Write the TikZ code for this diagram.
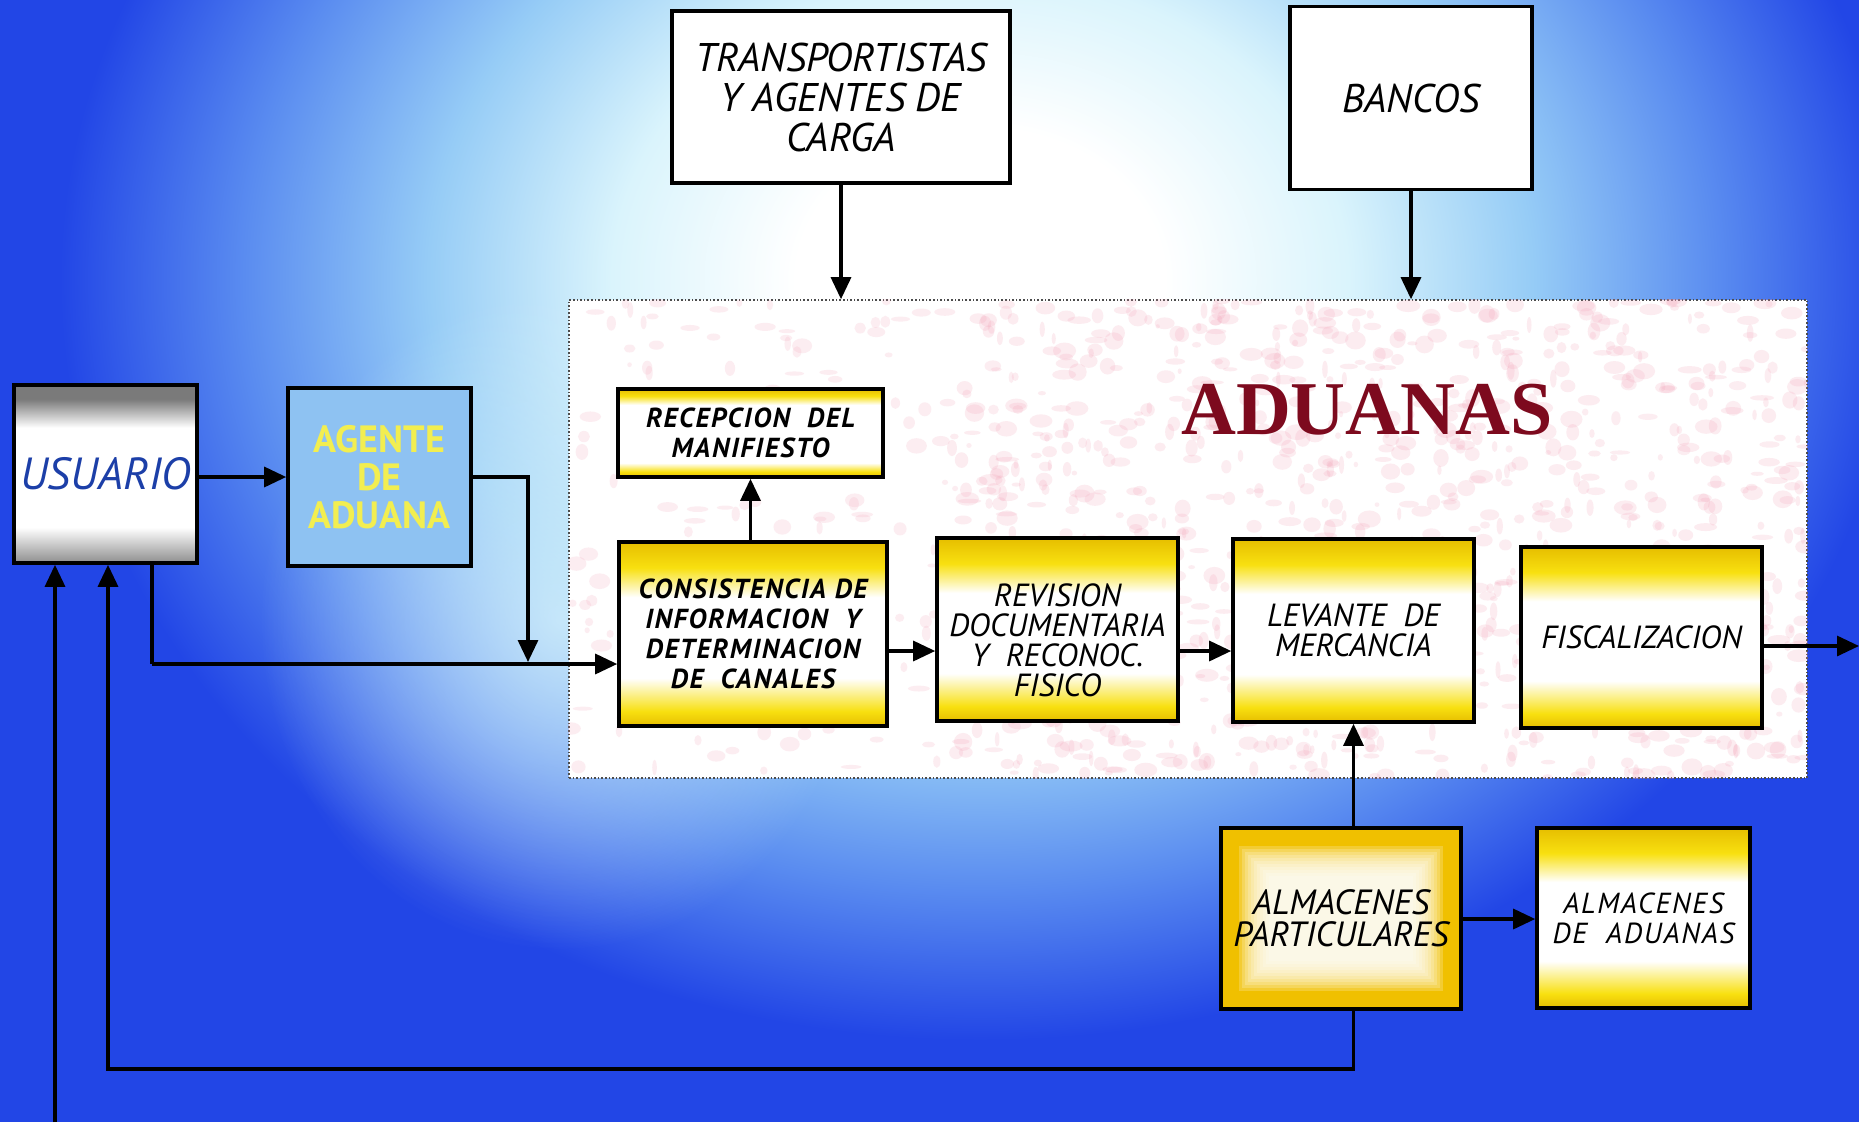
\documentclass[tikz,border=0pt]{standalone}
\usepackage{fontspec}
\usetikzlibrary{arrows.meta,calc,fadings}
\newfontfamily\hand{PT Sans}
\newfontfamily\handsp{PT Sans}[LetterSpace=6]
\newfontfamily\titlef{Liberation Serif}
\definecolor{bgblue}{HTML}{2246E6}
\definecolor{bgmid}{HTML}{5A8CF0}
\definecolor{bglight}{HTML}{96CCF6}
\definecolor{bgpale}{HTML}{DAF4FC}
\definecolor{yel}{HTML}{F8E010}
\definecolor{ydk}{HTML}{E6BE00}
\definecolor{gold}{HTML}{F0C000}
\definecolor{gry1}{HTML}{7A7A7A}
\definecolor{gry2}{HTML}{8E8E8E}
\definecolor{agblue}{HTML}{8EC2F2}
\definecolor{agtext}{HTML}{F2EE50}
\definecolor{usblue}{HTML}{1C3FA8}
\definecolor{adured}{HTML}{7D0A1E}
\definecolor{speck}{HTML}{F2A0B6}
\pgfdeclareradialshading{bgshade}{\pgfpointorigin}{color(0bp)=(white); color(5bp)=(white); color(10bp)=(bgpale); color(15bp)=(bglight); color(20bp)=(bgmid); color(25bp)=(bgblue); color(50bp)=(bgblue)}
\pgfdeclareverticalshading{yshade}{100bp}{color(0bp)=(ydk); color(25bp)=(ydk); color(29bp)=(yel); color(38bp)=(white); color(60bp)=(white); color(68bp)=(yel); color(75bp)=(ydk); color(100bp)=(ydk)}
\pgfdeclareverticalshading{yshadethin}{100bp}{color(0bp)=(ydk); color(25bp)=(ydk); color(28bp)=(yel); color(33bp)=(white); color(66bp)=(white); color(71bp)=(yel); color(75bp)=(ydk); color(100bp)=(ydk)}
\pgfdeclareverticalshading{gshade}{100bp}{color(0bp)=(gry2); color(25bp)=(gry2); color(35bp)=(white); color(63bp)=(white); color(71bp)=(gry1); color(75bp)=(gry1); color(100bp)=(gry1)}
\tikzfading[name=softblob, inner color=transparent!0, outer color=transparent!100]
\begin{document}
\begin{tikzpicture}[x=1pt,y=-1pt,
  boxline/.style={draw=black, line width=3.6pt, inner sep=0pt, align=center},
  wbox/.style={boxline, fill=white, font=\hand\itshape\fontsize{40}{40}\selectfont},
  ybox/.style={boxline, shade, shading=yshade},
  arr/.style={draw=black, line width=3.2pt, -{Triangle[length=22pt,width=20pt]}},
  plain/.style={draw=black, line width=3.2pt},
  ft32/.style={font=\hand\itshape\fontsize{32}{30}\selectfont},
  fb28/.style={font=\handsp\bfseries\itshape\fontsize{27.5}{30}\selectfont},
]
\useasboundingbox (0,0) rectangle (1859,1122);
\clip (0,0) rectangle (1859,1122);
% background
\fill[bgblue] (0,0) rectangle (1859,1122);
\shade[shading=bgshade] (980,280) ellipse [x radius=920pt, y radius=760pt];
\fill[bgpale, path fading=softblob, opacity=0.75] (560,620) ellipse [x radius=300pt, y radius=330pt];
% ADUANAS container
\node[draw=black!70, dotted, line width=1.6pt, fill=white, minimum width=1238, minimum height=478, inner sep=0pt] (cont) at (1188,539) {};
\begin{scope}
\clip (cont.north west) rectangle (cont.south east);
\pgfmathsetseed{4242}
\foreach \i in {1,...,450}{
  \pgfmathsetmacro{\px}{569+1238*rnd}
  \pgfmathsetmacro{\py}{300+478*rnd}
  \pgfmathsetmacro{\pw}{2+9*rnd}
  \pgfmathsetmacro{\ph}{2+6*rnd}
  \fill[speck, opacity=0.18] (\px,\py) ellipse [x radius=\pw pt, y radius=\ph pt];
}
\foreach \i in {1,...,800}{
  \pgfmathsetmacro{\px}{950+857*rnd}
  \pgfmathsetmacro{\py}{300+478*rnd}
  \pgfmathsetmacro{\pw}{2+10*rnd}
  \pgfmathsetmacro{\ph}{2+7*rnd}
  \fill[speck, opacity=0.2] (\px,\py) ellipse [x radius=\pw pt, y radius=\ph pt];
}
\end{scope}
\node[font=\titlef\bfseries\fontsize{76}{76}\selectfont, text=adured, inner sep=0pt] (title) at (1367,410) {ADUANAS};
% top boxes
\node[wbox, minimum width=338, minimum height=172] (trans) at (841,97) {TRANSPORTISTAS\\Y AGENTES DE\\CARGA};
\node[wbox, minimum width=242, minimum height=183] (bancos) at (1411,98) {BANCOS};
% left boxes
\node[boxline, shade, shading=gshade, minimum width=183, minimum height=178, text=usblue, font=\hand\itshape\fontsize{45}{45}\selectfont] (usuario) at (105.5,474) {USUARIO};
\node[boxline, fill=agblue, minimum width=183, minimum height=178, text=agtext, font=\hand\bfseries\fontsize{38}{38}\selectfont] (agente) at (379.5,477) {AGENTE\\DE\\ADUANA};
% process boxes
\node[boxline, shade, shading=yshadethin, minimum width=265, minimum height=88, fb28] (recep) at (750.5,433) {RECEPCION\ \ DEL\\MANIFIESTO};
\node[ybox, minimum width=268, minimum height=184, fb28] (consis) at (753,634) {CONSISTENCIA DE\\INFORMACION\ \ Y\\DETERMINACION\\DE\ \ CANALES};
\node[ybox, minimum width=241, minimum height=183, ft32] (revision) at (1057.5,629.5) {\rule{0pt}{44pt}REVISION\\DOCUMENTARIA\\Y\ \ RECONOC.\\FISICO};
\node[ybox, minimum width=241, minimum height=183, ft32] (levante) at (1353.5,630.5) {LEVANTE\ \ DE\\MERCANCIA};
\node[ybox, minimum width=241, minimum height=181, ft32] (fiscal) at (1641.5,637.5) {FISCALIZACION};
\node[boxline, fill=gold, minimum width=240, minimum height=181,
  font=\hand\itshape\fontsize{35}{32}\selectfont,
  path picture={
    \foreach \k in {18,21,...,48}{
      \fill[white, opacity=0.2] ($(path picture bounding box.north west)+(\k,\k)$) rectangle ($(path picture bounding box.south east)+(-\k,-\k)$);
    }
  }] (almpart) at (1341,918.5) {ALMACENES\\PARTICULARES};
\node[ybox, minimum width=213, minimum height=180, font=\handsp\itshape\fontsize{29}{30}\selectfont] (almadu) at (1643.5,918) {ALMACENES\\DE\ \ ADUANAS};
% connectors
\draw[arr] (trans.south) -- (trans.south |- cont.north);
\draw[arr] (bancos.south) -- (bancos.south |- cont.north);
\draw[arr] (usuario.east |- agente.west) -- (agente.west);
\coordinate (aj) at (528,662);
\draw[arr] (agente.east) -| (aj);
\coordinate (uj) at (152,664);
\draw[plain] (uj |- usuario.south) -- (uj);
\draw[arr] (uj) -- (uj -| consis.west);
\draw[arr] (recep.south |- consis.north) -- (recep.south);
\draw[arr] (consis.east |- 0,651) -- (revision.west |- 0,651);
\draw[arr] (revision.east |- 0,651) -- (levante.west |- 0,651);
\coordinate (outR) at (1859,646);
\draw[arr] (fiscal.east |- outR) -- (outR);
\draw[arr] (levante.south |- almpart.north) -- (levante.south);
\draw[arr] (almpart.east |- 0,919) -- (almadu.west |- 0,919);
\coordinate (loopc) at (108,1069);
\draw[arr] (levante.south |- almpart.south) |- (loopc) -- (loopc |- usuario.south);
\coordinate (lb) at (55,1122);
\draw[arr] (lb) -- (lb |- usuario.south);
\end{tikzpicture}
\end{document}
